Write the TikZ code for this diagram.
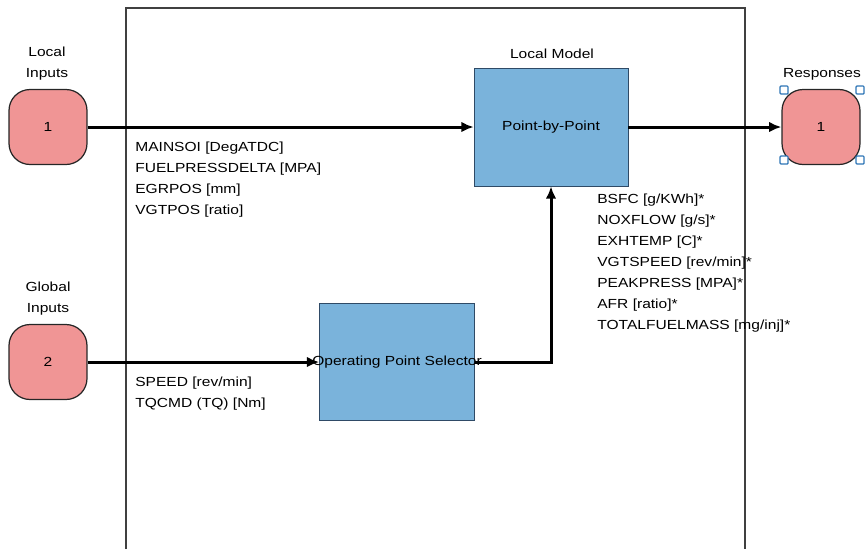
\documentclass[tikz,border=0pt]{standalone}
\usepackage{fontspec}
\setmainfont{Liberation Sans}[FakeStretch=1.18]
\usetikzlibrary{arrows.meta}
\definecolor{portpink}{HTML}{F09595}
\definecolor{blockblue}{HTML}{7AB3DB}
\definecolor{blockedge}{HTML}{2F4A66}
\definecolor{handleblue}{HTML}{2E75B6}
\begin{document}
\begin{tikzpicture}[x=0.02cm,y=-0.02cm,font=\fontsize{7.5}{9}\selectfont,
  port/.style={draw=black!85, line width=0.7pt, fill=portpink, rounded corners=0.42cm, minimum width=1.56cm, minimum height=1.5cm, inner sep=0pt},
  block/.style={draw=blockedge, fill=blockblue, minimum width=3.08cm, minimum height=2.36cm, inner sep=0pt},
  signal/.style={line width=1.7pt, -{Latex[length=7pt,width=6pt]}},
  sig/.style={anchor=west, inner sep=0pt},
  handle/.style={draw=handleblue, fill=white, line width=0.7pt, rounded corners=0.5pt, minimum size=0.16cm, inner sep=0pt}]
\useasboundingbox (0,0) rectangle (868,549);
\draw[black!75, line width=0.6pt] (126,549) -- (126,8) -- (745,8) -- (745,549);
\node (lbl1) at (47,64) {\begin{tabular}{@{}c@{}}Local\\[3pt]Inputs\end{tabular}};
\node[port] (in1) at (48,127) {1};
\node (lbl2) at (48,299) {\begin{tabular}{@{}c@{}}Global\\[3pt]Inputs\end{tabular}};
\node[port] (in2) at (48,362) {2};
\node (lblm) at (552,54) {Local Model};
\node[block] (pbp) at (551,127) {Point-by-Point};
\node[block, minimum width=3.1cm, minimum height=2.34cm, inner xsep=-0.3cm] (ops) at (397,362) {Operating Point Selector};
\node (lblr) at (822,74) {Responses};
\node[port] (out1) at (821,127) {1};
\foreach \hx/\hy [count=\i] in {784/90, 860/90, 784/160, 860/160}
  \node[handle] (h\i) at (\hx,\hy) {};
\draw[signal] (in1.east) -- (pbp.west);
\draw[signal] (pbp.east) -- (out1.west);
\draw[signal] (in2.east) -- (ops.west);
\draw[signal] (ops.east) -| (pbp.south);
\node[sig] (s1) at (135,148) {MAINSOI [DegATDC]};
\node[sig] (s2) at (135,169) {FUELPRESSDELTA [MPA]};
\node[sig] (s3) at (135,190) {EGRPOS [mm]};
\node[sig] (s4) at (135,211) {VGTPOS [ratio]};
\node[sig] (g1) at (135,383) {SPEED [rev/min]};
\node[sig] (g2) at (135,404) {TQCMD (TQ) [Nm]};
\node[sig] (r1) at (597,200) {BSFC [g/KWh]*};
\node[sig] (r2) at (597,221) {NOXFLOW [g/s]*};
\node[sig] (r3) at (597,242) {EXHTEMP [C]*};
\node[sig] (r4) at (597,263) {VGTSPEED [rev/min]*};
\node[sig] (r5) at (597,284) {PEAKPRESS [MPA]*};
\node[sig] (r6) at (597,305) {AFR [ratio]*};
\node[sig] (r7) at (597,326) {TOTALFUELMASS [mg/inj]*};
\end{tikzpicture}
\end{document}
